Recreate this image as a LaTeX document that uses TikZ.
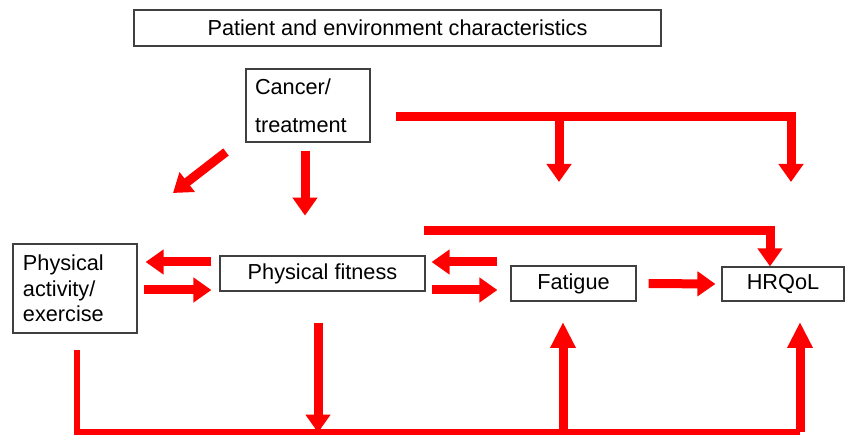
\documentclass[tikz,border=0pt]{standalone}
\usepackage{fontspec}
\setmainfont{Liberation Sans}
\usetikzlibrary{arrows.meta}

\begin{document}
\begin{tikzpicture}[x=1pt,y=-1pt,
    box/.style={draw=black!75,line width=1.2pt,inner sep=0pt,
      font=\fontsize{21.7}{25}\selectfont},
    fat/.style={draw=red,line width=9pt,line join=miter,
      -{Triangle[width=24pt,length=18pt]}},
    longtip/.style={-{Triangle[width=24pt,length=26pt]}},
    base/.style={draw=red,line width=6pt,line join=miter}]
  \useasboundingbox (0,0) rectangle (846,435);

  % boxes
  \node[box,minimum width=527,minimum height=36] (pec) at (397.5,28)
    {Patient and environment characteristics};
  \node[box,minimum width=124,minimum height=73,text width=106,align=left,
    font=\fontsize{21.7}{38}\selectfont] (can) at (308,105.5)
    {Cancer/\\treatment};
  \node[box,minimum width=124,minimum height=89,text width=104,align=left,
    font=\fontsize{21.7}{25.5}\selectfont] (pa) at (75,288.5)
    {Physical\\activity/\\exercise};
  \node[box,minimum width=205,minimum height=35] (pf) at (322.5,273.5)
    {Physical fitness};
  \node[box,minimum width=125,minimum height=35] (fat) at (573.5,283.5)
    {Fatigue};
  \node[box,minimum width=122,minimum height=34] (hrq) at (783,284)
    {HRQoL};

  % free ends
  \coordinate (diagA) at (226,152);
  \coordinate (diagB) at (173,193);
  \coordinate (topL) at (396,117);
  \coordinate (topR) at (791,117);
  \coordinate (topM) at (559,117);
  \coordinate (midL) at (424,231);
  \coordinate (midR) at (770,231);
  \coordinate (botL) at (77,350);
  \coordinate (botC) at (77,432);
  \coordinate (upF) at (563,322);
  \coordinate (upH) at (800,322);

  % cancer/treatment
  \draw[fat] (diagA) -- (diagB);
  \draw[fat] ([shift={(-3,8)}]can.south) -- ++(0,65);
  \draw[fat] (topL) -- (topR) -- ++(0,65);
  \draw[fat] (topM) -- ++(0,65);

  % fitness to HRQoL
  \draw[fat] (midL) -- (midR) -- (midR |- hrq.north);

  % between boxes
  \draw[fat] ([shift={(-8,-11.5)}]pf.west) -- ([shift={(8,-26.5)}]pa.east);
  \draw[fat] ([shift={(6,1.5)}]pa.east) -- ([shift={(-8,16.5)}]pf.west);
  \draw[fat] ([shift={(-13,-21.5)}]fat.west) -- ([shift={(6,-11.5)}]pf.east);
  \draw[fat] ([shift={(6,16.5)}]pf.east) -- ([shift={(-13,6.5)}]fat.west);
  \draw[fat] ([xshift=12]fat.east) -- ([xshift=-6]hrq.west);

  % bottom loop
  \draw[base] (botL) -- (botC) -- (botC -| upH);
  \draw[fat] ([shift={(-4.5,31)}]pf.south) -- ++(0,110);
  \draw[fat,longtip] (botC -| upF) -- (upF);
  \draw[fat,longtip] (botC -| upH) -- (upH);
\end{tikzpicture}
\end{document}
